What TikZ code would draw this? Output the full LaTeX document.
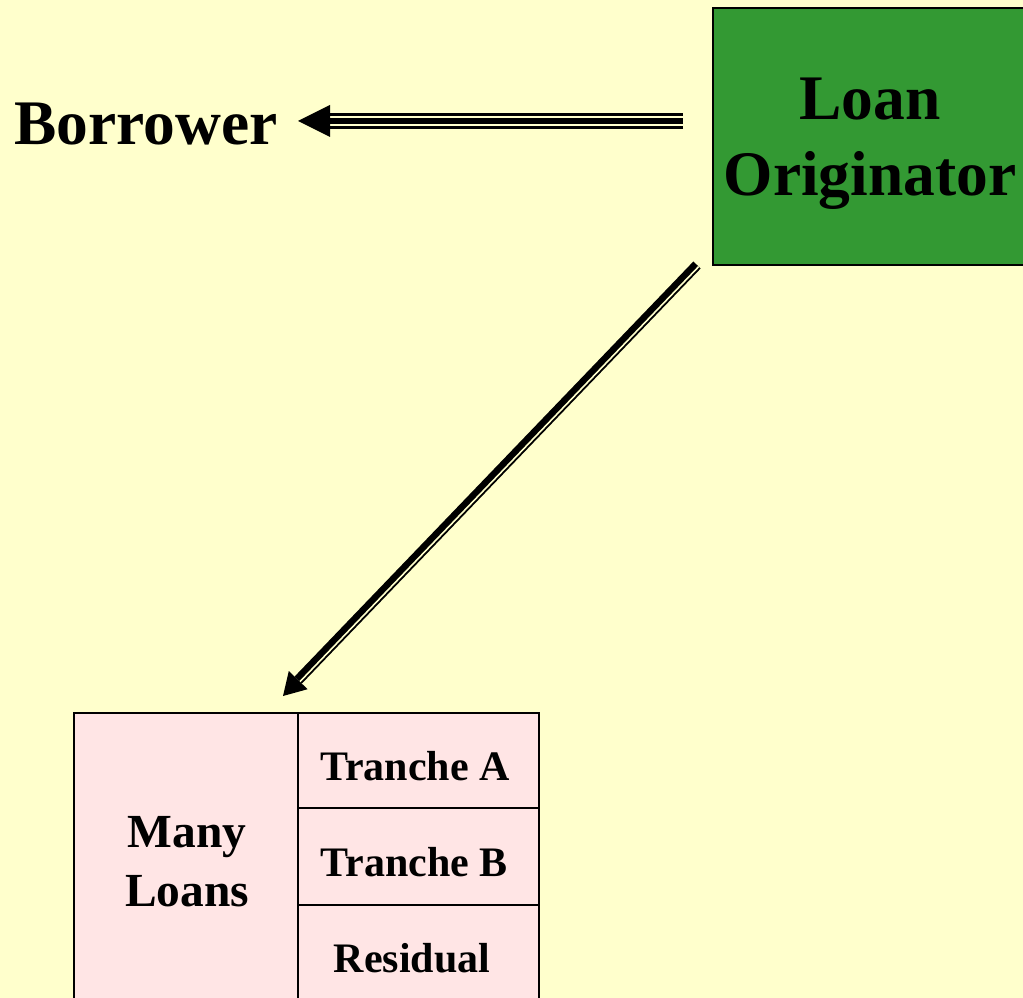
\documentclass[tikz,border=0pt]{standalone}
\usepackage{fontspec}
\setmainfont{Liberation Serif}
\usetikzlibrary{calc}
\definecolor{bgyellow}{RGB}{255,255,204}
\definecolor{boxgreen}{RGB}{51,153,51}
\definecolor{poolpink}{RGB}{255,229,229}
\begin{document}
\begin{tikzpicture}[x=0.75pt,y=-0.75pt,
  bigtxt/.style={font=\fontsize{47.6}{57}\selectfont\bfseries, inner sep=0pt, align=center},
  loantxt/.style={font=\fontsize{35.6}{44.25}\selectfont\bfseries, inner sep=0pt, align=center},
  celltxt/.style={font=\fontsize{31.5}{38}\selectfont\bfseries, inner sep=0pt, anchor=base},
  cellline/.style={draw=black, line width=1.6pt},
  headfill/.style={fill=black, draw=none}]
\useasboundingbox (0,0) rectangle (1023,998);
\fill[bgyellow] (0,0) rectangle (1023,998);
\clip (0,0) rectangle (1023,998);

% Loan originator box
\node[draw=black, line width=1.6pt, fill=boxgreen, minimum width=314*0.75pt, minimum height=257*0.75pt, inner sep=0pt] (origbox) at (870,136.5) {};
\node[bigtxt] (orig) at (870,144) {Loan\\Originator};

% Borrower
\node[bigtxt] (borrower) at (146,124) {Borrower};

% Pool table
\node[cellline, fill=poolpink, minimum width=465*0.75pt, minimum height=300*0.75pt, inner sep=0pt, anchor=north west] (pool) at (73,712) {};
\coordinate (divtop) at (298,712);
\coordinate (divbot) at (298,1012);
\draw[cellline] (divtop) -- (divbot);
\coordinate (hlA1) at (298,808);
\coordinate (hlA2) at (538,808);
\coordinate (hlB1) at (298,905);
\coordinate (hlB2) at (538,905);
\draw[cellline] (hlA1) -- (hlA2);
\draw[cellline] (hlB1) -- (hlB2);
\node[loantxt] (many) at (187,862) {Many\\Loans};
\node[celltxt] (trA) at (415,780) {Tranche A};
\node[celltxt] (trB) at (414,876) {Tranche B};
\node[celltxt] (resid) at (412,972) {Residual};

% Arrow originator -> borrower (triple line)
\coordinate (hA) at (683,121);
\coordinate (hB) at (326,121);
\coordinate (hT) at (298,121);
\draw[black, line width=11.6pt] (hA) -- (hB);
\draw[bgyellow, line width=7.9pt] (hA) -- (hB);
\draw[black, line width=4.5pt] (hA) -- (hB);
\fill[headfill] (hT) -- (330,105) -- (330,137) -- cycle;

% Arrow originator -> pool (double line)
\coordinate (dA) at (697,265);
\coordinate (dB) at (298.2,680.1);
\coordinate (dT) at (283,696);
\draw[black, line width=7.6pt] (dA) -- (dB);
\draw[bgyellow, line width=1.2pt] ($(dA)+(1.7,1.6)$) -- ($(dB)+(1.7,1.6)$);
\fill[headfill] (dT) -- (307.6,689.2) -- (288.8,671.0) -- cycle;
\end{tikzpicture}
\end{document}
